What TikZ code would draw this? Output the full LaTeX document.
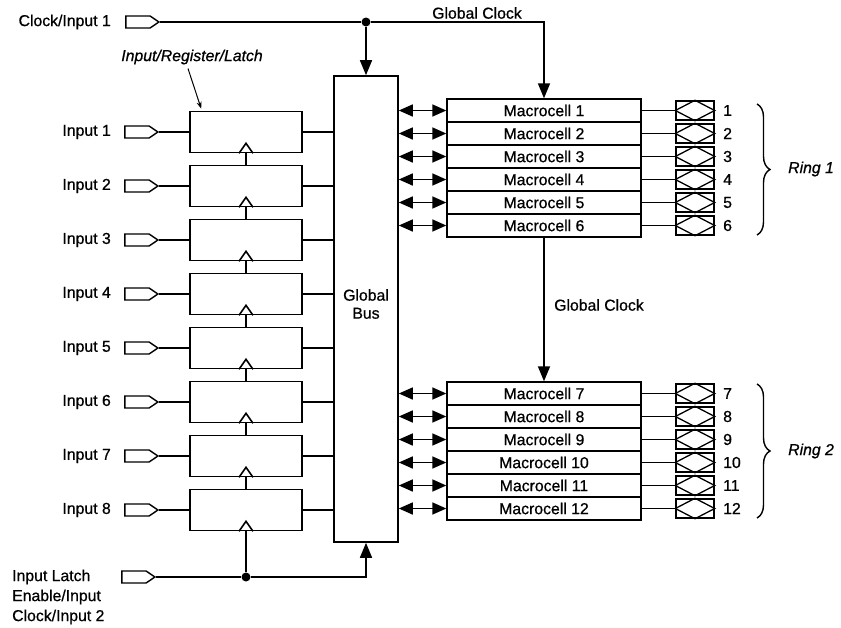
\documentclass[tikz,border=0pt]{standalone}
\usepackage{fontspec}
\setmainfont{Liberation Sans}[FakeBold=0.7]
\usetikzlibrary{arrows.meta,decorations.pathreplacing,calc,shapes.symbols}
\begin{document}
\begin{tikzpicture}[x=1pt,y=-1pt,
  every node/.style={font=\fontsize{15.8}{18}\selectfont},
  reg/.style={draw, line width=1.6pt, minimum width=112pt, minimum height=41pt, inner sep=0pt},
  busbox/.style={draw, line width=1.6pt, minimum width=64pt, minimum height=466pt, inner sep=0pt},
  mc/.style={draw, line width=1.4pt, minimum width=194pt, minimum height=23pt, inner sep=0pt},
  opad/.style={draw, line width=1.4pt, minimum width=38pt, minimum height=19pt, inner sep=0pt},
  ipad/.style={draw, line width=1.4pt, signal, signal to=east, signal pointer angle=68,
    minimum width=33pt, minimum height=12pt, inner sep=0pt},
  jdot/.style={circle, fill, inner sep=0pt, minimum size=9pt},
  wire/.style={line width=1.6pt},
  thinwire/.style={line width=1pt},
  bigarrow/.style={-{Triangle[length=15pt,width=12pt]}},
  bidir/.style={{Triangle[length=14pt,width=12pt]}-{Triangle[length=14pt,width=12pt]}},
  lbl/.style={inner sep=0pt},
  ital/.style={inner sep=0pt, font=\fontsize{15.8}{18}\selectfont\itshape},
  ringbrace/.style={line width=1.4pt, decorate, decoration={brace, amplitude=13pt}}
]
\useasboundingbox (0,0) rectangle (841,627);

% global bus
\node[busbox] (bus) at (366,309) {};
\node[lbl, align=center, font=\fontsize{15.8}{18}\selectfont] (busl) at (366,304) {Global\\Bus};

% input registers
\foreach \i in {1,...,8} {
  \pgfmathsetmacro\yc{132+54*(\i-1)}
  \node[reg] (r\i) at (246,\yc) {};
  \node[ipad] (ip\i) at (137,\yc) {};
  \node[lbl, anchor=east] (il\i) at (111,\yc) {Input \i};
  \draw[wire] (ip\i.east) -- (r\i.west);
  \draw[wire] (r\i.east) -- (r\i.east -| bus.west);
  \draw[wire] ($(r\i.south)+(-7,0)$) -- ($(r\i.south)+(0,-10)$) -- ($(r\i.south)+(7,0)$);
}
\foreach \i [evaluate=\i as \j using int(\i+1)] in {1,...,7} {
  \draw[wire] (r\j.north) -- (r\i.south);
}

% label Input/Register/Latch
\node[ital] (irl) at (192,57) {Input/Register/Latch};
\draw[thinwire, -{Stealth[length=7pt,width=5pt]}] ($(irl.south)+(-4,4)$) -- ($(r1.north west)+(12,-2)$);

% clock input 1
\node[ipad] (cp) at (138,22) {};
\node[lbl, anchor=east] (cl) at (111,22) {Clock/Input 1};

% macrocells
\foreach \i in {1,...,6} {
  \node[mc] (m\i) at (544,{110.5+23*(\i-1)}) {Macrocell \i};
}
\foreach \i in {7,...,12} {
  \node[mc] (m\i) at (544,{393.5+23*(\i-7)}) {Macrocell \i};
}
\foreach \i in {1,...,12} {
  \node[opad] (o\i) at (695,0 |- m\i.center) {};
  \draw[line width=1.3pt] (o\i.west) -- (o\i.north) -- (o\i.east) -- (o\i.south) -- cycle;
  \node[lbl, anchor=west] (n\i) at (723,0 |- m\i.center) {\i};
  \draw[thinwire] (m\i.east) -- (o\i.west);
  \draw[wire, bidir] (bus.east |- m\i.west) -- (m\i.west);
}

% global clock top
\node[jdot] (dot1) at (bus.north |- cp) {};
\coordinate (gc1) at (m1.north |- cp);
\draw[wire] (cp.east) -- (dot1);
\draw[wire, bigarrow] (dot1) -- (gc1) -- (m1.north);
\draw[wire, bigarrow] (dot1) -- (bus.north);
\node[lbl] (gcl1) at (477,13) {Global Clock};

% global clock between rings
\draw[wire, bigarrow] (m6.south) -- (m7.north);
\node[lbl, anchor=west] (gcl2) at (554,305) {Global Clock};

% bottom clock input 2
\node[ipad] (bp) at (134,577) {};
\node[lbl, anchor=west, align=left, font=\fontsize{15.8}{20}\selectfont] (bl) at (12,597) {Input Latch\\Enable/Input\\Clock/Input 2};
\node[jdot] (dot2) at (r8.south |- bp) {};
\coordinate (bc) at (bus.south |- bp);
\draw[wire] (bp.east) -- (dot2);
\draw[wire] (dot2) -- (r8.south);
\draw[wire, bigarrow] (dot2) -- (bc) -- (bus.south);

% rings
\coordinate (b1t) at (757,104);
\coordinate (b1b) at (757,235);
\coordinate (b2t) at (757,384);
\coordinate (b2b) at (757,518);
\draw[ringbrace] (b1t) -- (b1b);
\draw[ringbrace] (b2t) -- (b2b);
\node[ital, anchor=west] (ring1) at (788,169) {Ring 1};
\node[ital, anchor=west] (ring2) at (788,451) {Ring 2};
\end{tikzpicture}
\end{document}
